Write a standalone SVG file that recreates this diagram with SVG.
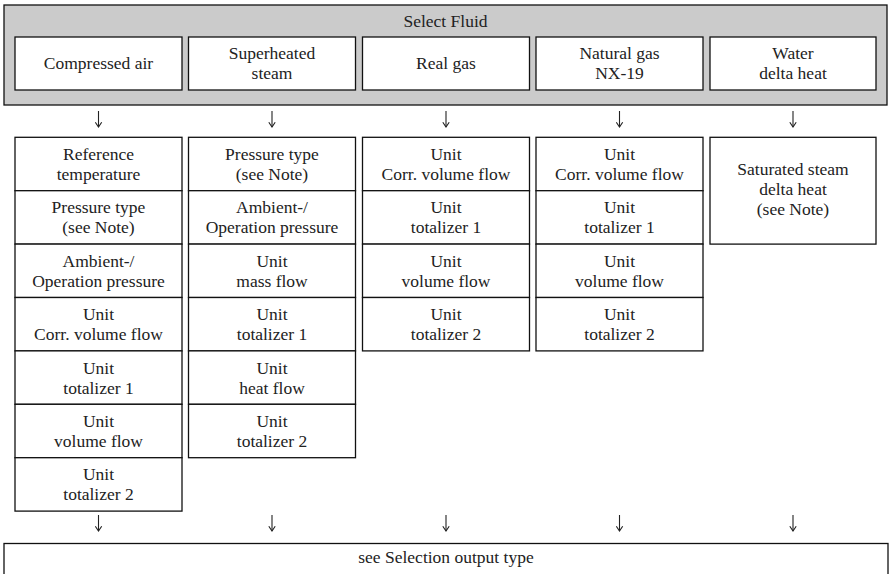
<svg xmlns="http://www.w3.org/2000/svg" width="891" height="574" viewBox="0 0 891 574">
<defs>
<style>
text{font-family:"Liberation Serif","Times New Roman",serif;font-size:17.5px;fill:#222;text-anchor:middle}
.box{fill:#fff;stroke:#111;stroke-width:1.3}
.panel{fill:#cbcbcb;stroke:#111;stroke-width:1.3}
.arr{fill:none;stroke:#222;stroke-width:1.1}
</style>
<marker id="ah" viewBox="0 0 10 10" refX="9" refY="5" markerWidth="8" markerHeight="8" markerUnits="userSpaceOnUse" orient="auto">
<path d="M3,1 L9,5 L3,9" fill="none" stroke="#222" stroke-width="1.4"/>
</marker>
</defs>
<rect width="891" height="574" fill="#fff"/>

<g id="select-fluid">
<rect class="panel" x="4" y="5" width="883" height="100"/>
<text x="445.5" y="26.5">Select Fluid</text>
</g>
<g id="fluid-compressed-air"><rect class="box" x="15" y="37" width="167" height="53"/><text x="98.5" y="69">Compressed air</text></g>
<g id="fluid-superheated-steam"><rect class="box" x="188.5" y="37" width="167" height="53"/><text x="272" y="59">Superheated</text><text x="272" y="79">steam</text></g>
<g id="fluid-real-gas"><rect class="box" x="362.5" y="37" width="167" height="53"/><text x="446" y="69">Real gas</text></g>
<g id="fluid-natural-gas"><rect class="box" x="536" y="37" width="167" height="53"/><text x="619.5" y="59">Natural gas</text><text x="619.5" y="79">NX-19</text></g>
<g id="fluid-water"><rect class="box" x="710" y="37" width="166" height="53"/><text x="793" y="59">Water</text><text x="793" y="79">delta heat</text></g>

<g id="col1">
<g id="c1r1"><rect class="box" x="15" y="137.3" width="167" height="53.4"/><text x="98.5" y="160">Reference</text><text x="98.5" y="180">temperature</text></g>
<g id="c1r2"><rect class="box" x="15" y="190.7" width="167" height="53.4"/><text x="98.5" y="213.4">Pressure type</text><text x="98.5" y="233.4">(see Note)</text></g>
<g id="c1r3"><rect class="box" x="15" y="244.1" width="167" height="53.4"/><text x="98.5" y="266.8">Ambient-/</text><text x="98.5" y="286.8">Operation pressure</text></g>
<g id="c1r4"><rect class="box" x="15" y="297.5" width="167" height="53.4"/><text x="98.5" y="320.2">Unit</text><text x="98.5" y="340.2">Corr. volume flow</text></g>
<g id="c1r5"><rect class="box" x="15" y="350.9" width="167" height="53.4"/><text x="98.5" y="373.6">Unit</text><text x="98.5" y="393.6">totalizer 1</text></g>
<g id="c1r6"><rect class="box" x="15" y="404.3" width="167" height="53.4"/><text x="98.5" y="427">Unit</text><text x="98.5" y="447">volume flow</text></g>
<g id="c1r7"><rect class="box" x="15" y="457.7" width="167" height="53.4"/><text x="98.5" y="480.4">Unit</text><text x="98.5" y="500.4">totalizer 2</text></g>
</g>

<g id="col2">
<g id="c2r1"><rect class="box" x="188.5" y="137.3" width="167" height="53.4"/><text x="272" y="160">Pressure type</text><text x="272" y="180">(see Note)</text></g>
<g id="c2r2"><rect class="box" x="188.5" y="190.7" width="167" height="53.4"/><text x="272" y="213.4">Ambient-/</text><text x="272" y="233.4">Operation pressure</text></g>
<g id="c2r3"><rect class="box" x="188.5" y="244.1" width="167" height="53.4"/><text x="272" y="266.8">Unit</text><text x="272" y="286.8">mass flow</text></g>
<g id="c2r4"><rect class="box" x="188.5" y="297.5" width="167" height="53.4"/><text x="272" y="320.2">Unit</text><text x="272" y="340.2">totalizer 1</text></g>
<g id="c2r5"><rect class="box" x="188.5" y="350.9" width="167" height="53.4"/><text x="272" y="373.6">Unit</text><text x="272" y="393.6">heat flow</text></g>
<g id="c2r6"><rect class="box" x="188.5" y="404.3" width="167" height="53.4"/><text x="272" y="427">Unit</text><text x="272" y="447">totalizer 2</text></g>
</g>

<g id="col3">
<g id="c3r1"><rect class="box" x="362.5" y="137.3" width="167" height="53.4"/><text x="446" y="160">Unit</text><text x="446" y="180">Corr. volume flow</text></g>
<g id="c3r2"><rect class="box" x="362.5" y="190.7" width="167" height="53.4"/><text x="446" y="213.4">Unit</text><text x="446" y="233.4">totalizer 1</text></g>
<g id="c3r3"><rect class="box" x="362.5" y="244.1" width="167" height="53.4"/><text x="446" y="266.8">Unit</text><text x="446" y="286.8">volume flow</text></g>
<g id="c3r4"><rect class="box" x="362.5" y="297.5" width="167" height="53.4"/><text x="446" y="320.2">Unit</text><text x="446" y="340.2">totalizer 2</text></g>
</g>

<g id="col4">
<g id="c4r1"><rect class="box" x="536" y="137.3" width="167" height="53.4"/><text x="619.5" y="160">Unit</text><text x="619.5" y="180">Corr. volume flow</text></g>
<g id="c4r2"><rect class="box" x="536" y="190.7" width="167" height="53.4"/><text x="619.5" y="213.4">Unit</text><text x="619.5" y="233.4">totalizer 1</text></g>
<g id="c4r3"><rect class="box" x="536" y="244.1" width="167" height="53.4"/><text x="619.5" y="266.8">Unit</text><text x="619.5" y="286.8">volume flow</text></g>
<g id="c4r4"><rect class="box" x="536" y="297.5" width="167" height="53.4"/><text x="619.5" y="320.2">Unit</text><text x="619.5" y="340.2">totalizer 2</text></g>
</g>

<g id="col5">
<g id="c5r1"><rect class="box" x="710" y="137.3" width="166" height="106.8"/><text x="793" y="175">Saturated steam</text><text x="793" y="195">delta heat</text><text x="793" y="215">(see Note)</text></g>
</g>

<g id="output-type">
<rect class="box" x="4" y="543.5" width="884" height="45"/>
<text x="446" y="563">see Selection output type</text>
</g>

<g id="connectors">
<path class="arr" marker-end="url(#ah)" d="M98.5,111 V127"/>
<path class="arr" marker-end="url(#ah)" d="M272,111 V127"/>
<path class="arr" marker-end="url(#ah)" d="M446,111 V127"/>
<path class="arr" marker-end="url(#ah)" d="M619.5,111 V127"/>
<path class="arr" marker-end="url(#ah)" d="M793,111 V127"/>
<path class="arr" marker-end="url(#ah)" d="M98.5,515 V531"/>
<path class="arr" marker-end="url(#ah)" d="M272,515 V531"/>
<path class="arr" marker-end="url(#ah)" d="M446,515 V531"/>
<path class="arr" marker-end="url(#ah)" d="M619.5,515 V531"/>
<path class="arr" marker-end="url(#ah)" d="M793,515 V531"/>
</g>
</svg>
